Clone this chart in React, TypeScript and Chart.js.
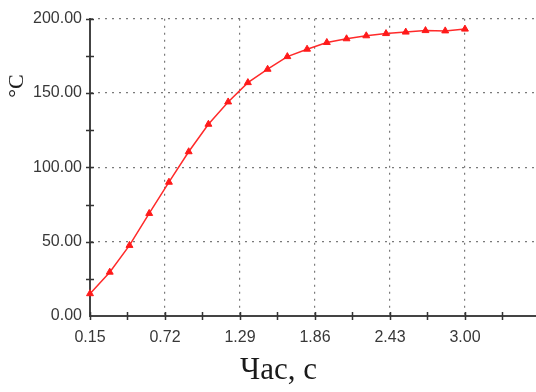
import { useEffect, useRef } from 'react';
import { Chart, registerables } from 'chart.js';

Chart.register(...registerables);

const times = [0.15, 0.3, 0.45, 0.6, 0.75, 0.9, 1.05, 1.2, 1.35, 1.5, 1.65, 1.8, 1.95, 2.1, 2.25, 2.4, 2.55, 2.7, 2.85, 3.0];
const temps = [15, 29.5, 47.5, 69, 90, 110.5, 129, 144, 157, 166, 174.5, 179.5, 184, 186.5, 188.5, 190, 191, 192, 191.8, 193];

const xMajorTicks = [0.15, 0.72, 1.29, 1.86, 2.43, 3.0];
const xMinorTicks = [0.435, 1.005, 1.575, 2.145, 2.715, 3.285];
const yMajorTicks = [0, 50, 100, 150, 200];
const yMinorTicks = [25, 75, 125, 175];

const xTitle = 'Час, с';
const yTitle = '°C';

const isIn = (arr: number[], v: number) => arr.some((m) => Math.abs(m - v) < 1e-6);

export default function App() {
  const ref = useRef<HTMLCanvasElement | null>(null);

  useEffect(() => {
    if (!ref.current) return;

    const tickPlugin = {
      id: 'tickMarksAndTitles',
      afterDraw(chart: any) {
        const { ctx, scales, chartArea } = chart;
        const xs = scales.x;
        const ys = scales.y;
        ctx.save();
        ctx.strokeStyle = '#333';
        ctx.lineWidth = 1.5;
        ctx.beginPath();
        [...xMajorTicks, ...xMinorTicks].forEach((v) => {
          const px = Math.round(xs.getPixelForValue(v)) + 0.5;
          ctx.moveTo(px, chartArea.bottom - 4);
          ctx.lineTo(px, chartArea.bottom + 4);
        });
        [...yMajorTicks, ...yMinorTicks].forEach((v) => {
          if (v === 0) return;
          const py = Math.round(ys.getPixelForValue(v)) + 0.5;
          ctx.moveTo(chartArea.left - 4, py);
          ctx.lineTo(chartArea.left + 4, py);
        });
        ctx.stroke();

        ctx.fillStyle = '#1a1a1a';
        ctx.font = '31px "Liberation Serif", "Times New Roman", serif';
        ctx.textAlign = 'center';
        ctx.textBaseline = 'alphabetic';
        ctx.fillText(xTitle, chartArea.left + 188.5, 379);

        ctx.font = '22px "Liberation Serif", "Times New Roman", serif';
        ctx.translate(17, 86);
        ctx.rotate(-Math.PI / 2);
        ctx.textBaseline = 'middle';
        ctx.fillText(yTitle, 0, 0);
        ctx.restore();
      },
    };

    const chart = new Chart(ref.current, {
      type: 'line',
      data: {
        datasets: [
          {
            data: times.map((t, i) => ({ x: t, y: temps[i] })),
            borderColor: '#ff2a2a',
            backgroundColor: '#ff1a1a',
            borderWidth: 1.5,
            pointStyle: 'triangle',
            pointRadius: 4,
            pointBorderWidth: 1,
            pointBorderColor: '#ff1a1a',
            tension: 0,
            clip: false,
          },
        ],
      },
      options: {
        responsive: false,
        animation: false,
        layout: { autoPadding: false, padding: { top: 18.7, right: 0, left: 0, bottom: 0 } },
        plugins: {
          legend: { display: false },
          tooltip: { enabled: false },
          title: { display: false },
        },
        scales: {
          x: {
            type: 'linear',
            min: 0.15,
            max: 3.54,
            afterBuildTicks: (scale: any) => {
              scale.ticks = [...xMajorTicks, ...xMinorTicks].sort((a, b) => a - b).map((v) => ({ value: v }));
            },
            afterFit: (scale: any) => {
              scale.height = 76;
              scale.paddingRight = 0;
              scale.paddingLeft = 0;
            },
            ticks: {
              autoSkip: false,
              maxRotation: 0,
              padding: 12,
              color: '#383838',
              font: { family: '"Liberation Sans", Arial, sans-serif', size: 16 },
              callback: (value: any) => (isIn(xMajorTicks, Number(value)) ? Number(value).toFixed(2) : ''),
            },
            grid: {
              drawTicks: false,
              lineWidth: 1.2,
              color: (ctx: any) =>
                ctx.tick && isIn(xMajorTicks, ctx.tick.value) && ctx.tick.value > 0.2 ? '#7a7a7a' : 'rgba(0,0,0,0)',
            },
            border: { display: true, color: '#444', width: 2, dash: [2, 5] },
          },
          y: {
            type: 'linear',
            min: 0,
            max: 200,
            afterBuildTicks: (scale: any) => {
              scale.ticks = [...yMajorTicks, ...yMinorTicks].sort((a, b) => a - b).map((v) => ({ value: v }));
            },
            afterFit: (scale: any) => {
              scale.width = 90;
            },
            ticks: {
              autoSkip: false,
              padding: 8,
              color: '#383838',
              font: { family: '"Liberation Sans", Arial, sans-serif', size: 16 },
              callback: (value: any) => (isIn(yMajorTicks, Number(value)) ? Number(value).toFixed(2) : ''),
            },
            grid: {
              drawTicks: false,
              lineWidth: 1.2,
              color: (ctx: any) =>
                ctx.tick && isIn(yMajorTicks, ctx.tick.value) && ctx.tick.value > 0 ? '#7a7a7a' : 'rgba(0,0,0,0)',
            },
            border: { display: true, color: '#444', width: 2, dash: [2, 5] },
          },
        },
      },
      plugins: [tickPlugin],
    } as any);

    return () => chart.destroy();
  }, []);

  return (
    <div style={{ position: 'fixed', left: 0, top: 0, width: 536, height: 392, background: '#fff' }}>
      <canvas ref={ref} width={536} height={392} style={{ display: 'block' }} />
    </div>
  );
}
